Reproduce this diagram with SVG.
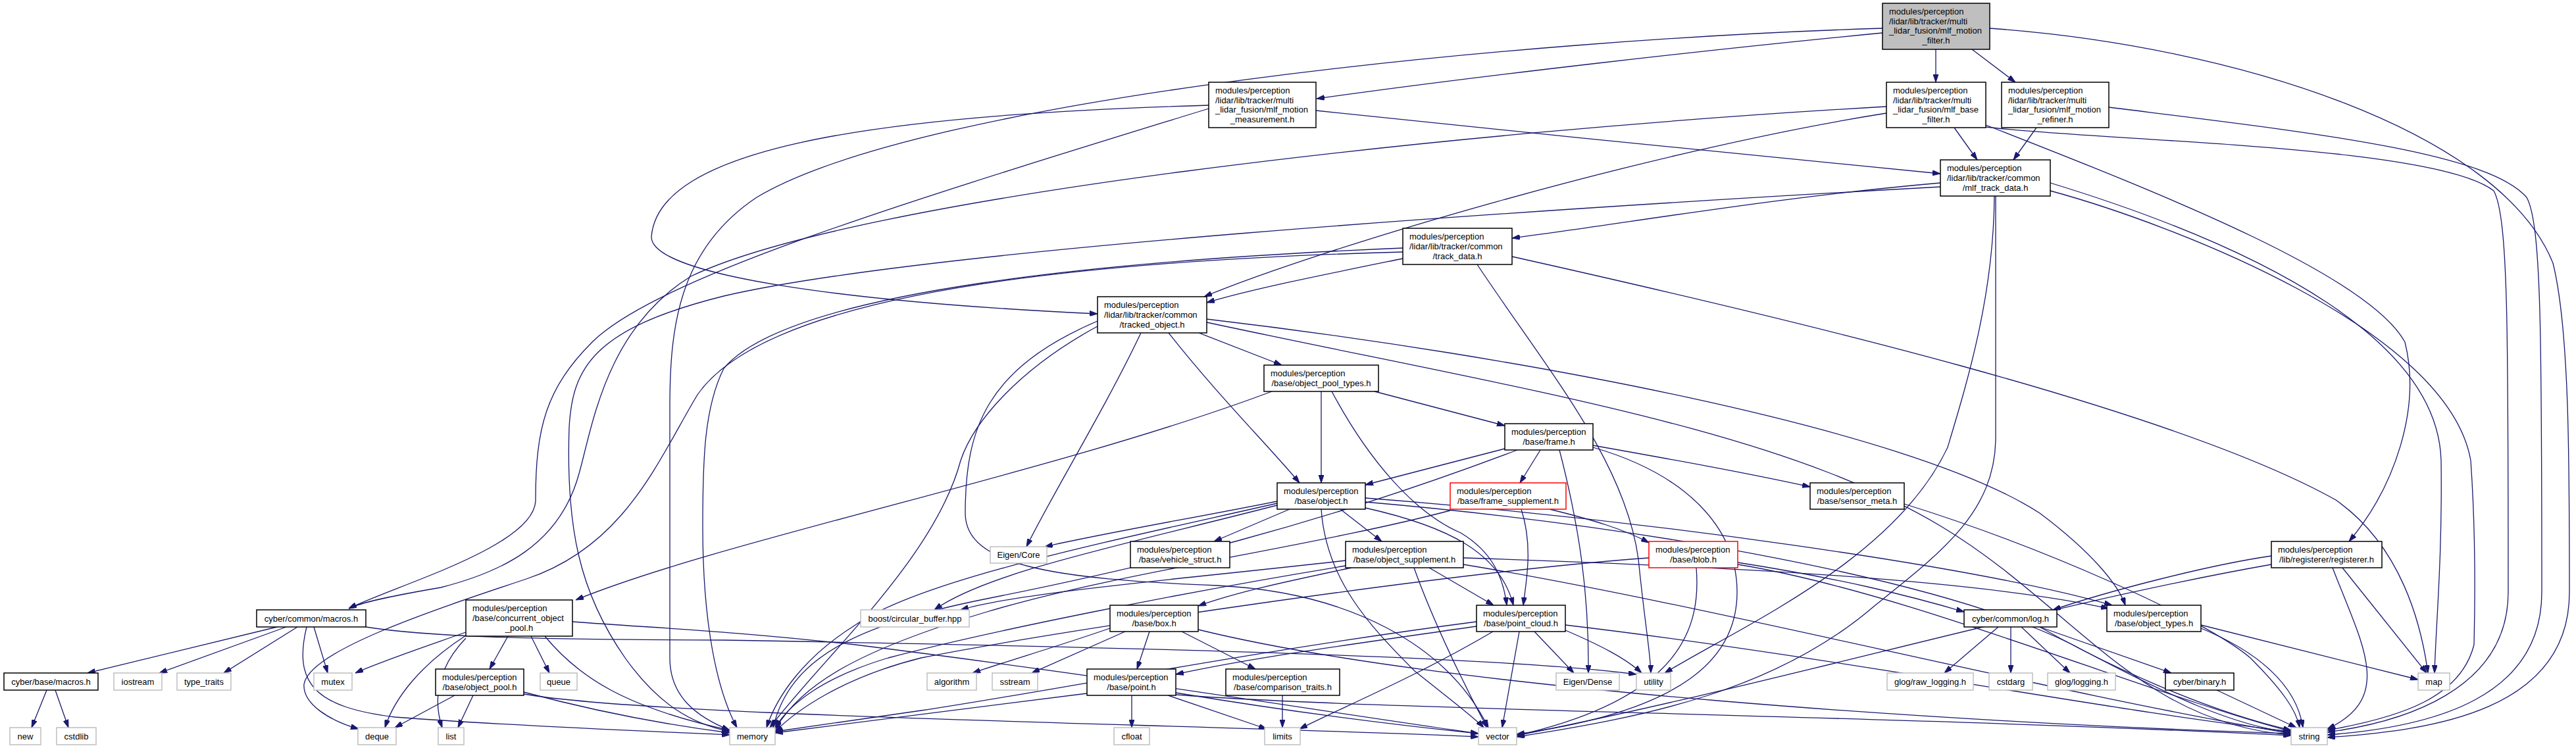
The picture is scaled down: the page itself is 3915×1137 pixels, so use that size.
<svg xmlns="http://www.w3.org/2000/svg" width="3915" height="1137" viewBox="0 0 3915 1137">
<style>
text{font-family:"Liberation Sans",Arial,Helvetica,sans-serif;font-size:13px;fill:#000}
.c{text-anchor:middle}
.n rect{fill:#fff;stroke:#000;stroke-width:1.5}
.g rect{fill:#fff;stroke:#bfbfbf;stroke-width:1.5}
.r rect{fill:#fff;stroke:#ff0000;stroke-width:1.5}
.t rect{fill:#bfbfbf;stroke:#000;stroke-width:1.5}
#edges path{fill:none;stroke:#191970;stroke-width:1.3;marker-end:url(#a)}
</style>
<defs>
<marker id="a" markerWidth="12" markerHeight="8" refX="12" refY="4" orient="auto" markerUnits="userSpaceOnUse">
<path d="M0,0 L12,4 L0,8 z" fill="#191970" stroke="#191970" stroke-width="1"/>
</marker>
</defs>
<rect width="3915" height="1137" fill="#fff"/>
<g id="edges">
<path d="M2861,50 C2600,75 2250,115 2001,150"/>
<path d="M2942,75 L2942,125"/>
<path d="M2997,75 L3063,125"/>
<path d="M2861,43 C2300,60 1400,150 1150,300 C1030,380 1018,500 1018,620 L1018,1000 C1018,1060 1060,1090 1109,1110"/>
<path d="M3024,43 C3400,70 3800,200 3880,400 C3905,500 3905,700 3905,900 C3905,1080 3700,1110 3537,1121"/>
<path d="M2000,168 C2300,200 2700,240 2949,264"/>
<path d="M1837,160 C1300,175 1000,230 990,360 C990,420 1300,460 1668,477"/>
<path d="M1837,165 C1400,300 1000,420 900,520 C830,590 814,650 814,760 C814,830 600,890 530,925"/>
<path d="M2970,194 L3005,243"/>
<path d="M2867,172 C2500,230 2000,380 1830,451"/>
<path d="M3018,190 C3300,300 3600,420 3655,520 C3680,620 3640,740 3570,823"/>
<path d="M3018,193 C3200,215 3700,220 3790,290 C3812,330 3812,500 3812,900 C3812,1050 3650,1098 3537,1113"/>
<path d="M2867,162 C2200,200 1300,300 1050,420 C920,500 900,650 880,720 C850,830 760,870 670,893 C600,905 550,915 530,925"/>
<path d="M3095,194 L3060,243"/>
<path d="M3205,163 C3500,200 3780,230 3840,300 C3862,340 3863,500 3863,900 C3863,1060 3700,1105 3537,1117"/>
<path d="M2949,278 C2700,300 2500,335 2298,362"/>
<path d="M2949,284 C2300,320 1400,380 1100,450 C900,500 870,560 865,650 C860,800 880,900 950,1000 C1000,1070 1050,1100 1109,1112"/>
<path d="M3116,290 C3300,340 3720,500 3755,700 C3762,800 3762,900 3760,980 C3740,1060 3650,1090 3537,1110"/>
<path d="M3116,278 C3450,380 3705,520 3710,700 C3712,850 3702,950 3700,1023"/>
<path d="M3031,298 C3030,450 2990,580 2960,680 C2880,850 2650,950 2530,1023"/>
<path d="M3033,298 L3033,670 C3030,780 2950,840 2850,920 C2700,1050 2500,1090 2305,1120"/>
<path d="M2132,393 C2000,420 1900,440 1834,460"/>
<path d="M2132,377 C1700,395 1200,440 1100,560 C1070,620 1068,700 1068,800 C1068,950 1090,1050 1120,1106"/>
<path d="M2132,383 C1500,400 1150,470 1060,600 C1000,700 950,830 800,880 C650,930 470,990 462,1040 C460,1070 500,1095 545,1108"/>
<path d="M2298,390 C2700,480 3300,620 3550,760 C3650,830 3680,950 3690,1023"/>
<path d="M2245,402 C2350,560 2470,700 2490,850 C2500,950 2508,990 2509,1023"/>
<path d="M1734,506 C1680,620 1600,750 1560,831"/>
<path d="M1776,506 C1850,600 1930,680 1975,734"/>
<path d="M1822,506 L1948,555"/>
<path d="M1834,485 C2300,540 2900,650 3100,780 C3180,840 3220,890 3230,920"/>
<path d="M1834,490 C2300,590 2700,650 2950,800 C3150,920 3250,1100 3482,1117"/>
<path d="M1668,496 C1550,560 1480,640 1460,700 C1420,850 1250,1000 1170,1106"/>
<path d="M1668,488 C1500,560 1467,650 1467,780 C1467,860 1600,880 1850,890 C2050,900 2200,980 2262,1106"/>
<path d="M1933,595 C1600,720 1100,820 875,912"/>
<path d="M2008,595 L2008,734"/>
<path d="M2024,595 C2080,700 2150,780 2220,810 C2270,840 2285,880 2290,920"/>
<path d="M2089,595 L2287,647"/>
<path d="M2287,682 L2075,737"/>
<path d="M2341,684 L2310,734"/>
<path d="M2421,677 C2550,700 2650,718 2751,740"/>
<path d="M2370,684 C2400,800 2415,900 2414,1023"/>
<path d="M2421,680 C2560,720 2640,800 2640,900 C2640,1000 2560,1080 2305,1116"/>
<path d="M2306,684 C2000,800 1750,860 1500,910 C1300,950 1200,1000 1175,1106"/>
<path d="M2355,774 C2420,790 2470,805 2506,825"/>
<path d="M2312,774 C2330,830 2320,880 2315,920"/>
<path d="M2204,776 C2000,830 1700,870 1500,930 C1300,990 1220,1040 1178,1108"/>
<path d="M2894,766 C3100,830 3350,940 3420,1000 C3470,1050 3490,1080 3495,1106"/>
<path d="M1941,762 C1800,790 1680,810 1588,831"/>
<path d="M1960,774 L1845,823"/>
<path d="M2037,774 L2100,823"/>
<path d="M2075,772 C2200,800 2280,840 2300,920"/>
<path d="M2075,757 C2500,790 3000,860 3210,920"/>
<path d="M2075,763 C2500,800 2950,880 3150,980 C3300,1060 3400,1105 3482,1113"/>
<path d="M2008,774 C2015,880 2080,950 2150,1020 C2200,1060 2240,1090 2255,1106"/>
<path d="M1941,765 C1700,820 1400,880 1300,950 C1220,1000 1180,1060 1165,1106"/>
<path d="M1941,768 C1700,830 1500,870 1420,927"/>
<path d="M2045,852 C1800,880 1550,900 1460,927"/>
<path d="M2054,863 C1950,885 1880,900 1821,921"/>
<path d="M2172,863 L2270,920"/>
<path d="M2224,848 C2600,860 3000,880 3205,925"/>
<path d="M2224,858 C2600,920 3100,1050 3482,1115"/>
<path d="M2149,863 C2180,950 2230,1050 2260,1106"/>
<path d="M2045,860 C1800,900 1500,960 1350,1000 C1250,1030 1200,1070 1178,1106"/>
<path d="M2506,848 C2200,870 1600,960 1400,1000 C1280,1030 1210,1080 1178,1112"/>
<path d="M2578,863 C2585,950 2560,1060 2305,1118"/>
<path d="M2641,855 C2800,880 2900,905 2985,930"/>
<path d="M2641,858 C2900,900 3250,1050 3482,1112"/>
<path d="M3452,845 C3350,860 3200,900 3120,927"/>
<path d="M3560,863 L3688,1023"/>
<path d="M3545,863 C3590,980 3640,1060 3537,1108"/>
<path d="M3452,858 C3100,920 2700,1040 2305,1118"/>
<path d="M1687,955 C1600,985 1530,1005 1478,1023"/>
<path d="M1710,960 L1568,1023"/>
<path d="M1747,960 L1728,1017"/>
<path d="M1796,960 L1908,1017"/>
<path d="M1821,957 C2200,1050 3000,1100 3482,1115"/>
<path d="M2244,952 C2050,980 1900,1000 1787,1025"/>
<path d="M2269,960 C2150,1030 2040,1075 1975,1108"/>
<path d="M2309,960 L2283,1106"/>
<path d="M2332,960 L2392,1023"/>
<path d="M2379,958 C2430,980 2470,1000 2495,1023"/>
<path d="M2379,950 C2800,1000 3200,1080 3482,1112"/>
<path d="M2244,945 C1900,990 1600,1050 1400,1080 C1300,1095 1230,1105 1178,1112"/>
<path d="M3345,950 L3675,1033"/>
<path d="M3345,955 C3430,990 3490,1040 3500,1106"/>
<path d="M772,967 L744,1017"/>
<path d="M807,967 L835,1023"/>
<path d="M828,967 C880,1030 950,1075 1109,1110"/>
<path d="M708,961 C640,985 580,1005 540,1023"/>
<path d="M708,966 C640,1010 600,1060 585,1106"/>
<path d="M708,970 C660,1020 660,1070 672,1106"/>
<path d="M870,945 C1000,955 1100,958 1300,980 C1700,1030 2000,1080 2247,1115"/>
<path d="M691,1057 L600,1106"/>
<path d="M719,1057 L696,1106"/>
<path d="M796,1052 C900,1080 1000,1100 1109,1114"/>
<path d="M796,1055 C1000,1090 1800,1100 2247,1120"/>
<path d="M1720,1057 L1720,1106"/>
<path d="M1775,1057 L1925,1108"/>
<path d="M1652,1054 C1450,1080 1300,1100 1178,1114"/>
<path d="M1787,1053 C1950,1080 2100,1100 2247,1115"/>
<path d="M1787,1056 C2100,1080 2800,1085 3482,1118"/>
<path d="M1949,1057 L1949,1106"/>
<path d="M3037,953 L2955,1023"/>
<path d="M3056,953 L3056,1023"/>
<path d="M3072,953 L3146,1023"/>
<path d="M3100,953 L3300,1023"/>
<path d="M3100,953 C3200,1010 3350,1080 3482,1110"/>
<path d="M3369,1049 L3490,1106"/>
<path d="M421,953 L133,1023"/>
<path d="M435,953 L242,1023"/>
<path d="M452,953 L340,1023"/>
<path d="M477,953 L498,1023"/>
<path d="M466,953 C445,1040 480,1075 600,1090 C800,1105 1000,1112 1109,1117"/>
<path d="M556,953 C650,968 800,972 1100,973 C1800,985 2300,1000 2487,1025"/>
<path d="M71,1049 L48,1106"/>
<path d="M84,1049 L104,1106"/>
</g>
<g id="n-mlf_motion_filter" class="t"><rect x="2861" y="5" width="163" height="70"/><text x="2871" y="22">modules/perception</text><text x="2871" y="36.6">/lidar/lib/tracker/multi</text><text x="2871" y="51.2">_lidar_fusion/mlf_motion</text><text class="c" x="2942.5" y="65.8">_filter.h</text></g>
<g id="n-mlf_motion_measurement" class="n"><rect x="1837" y="125" width="163" height="69"/><text x="1847" y="142.1">modules/perception</text><text x="1847" y="156.7">/lidar/lib/tracker/multi</text><text x="1847" y="171.3">_lidar_fusion/mlf_motion</text><text class="c" x="1918.5" y="185.9">_measurement.h</text></g>
<g id="n-mlf_base_filter" class="n"><rect x="2867" y="125" width="151" height="69"/><text x="2877" y="142.1">modules/perception</text><text x="2877" y="156.7">/lidar/lib/tracker/multi</text><text x="2877" y="171.3">_lidar_fusion/mlf_base</text><text class="c" x="2942.5" y="185.9">_filter.h</text></g>
<g id="n-mlf_motion_refiner" class="n"><rect x="3042" y="125" width="163" height="69"/><text x="3052" y="142.1">modules/perception</text><text x="3052" y="156.7">/lidar/lib/tracker/multi</text><text x="3052" y="171.3">_lidar_fusion/mlf_motion</text><text class="c" x="3123.5" y="185.9">_refiner.h</text></g>
<g id="n-mlf_track_data" class="n"><rect x="2949" y="243" width="167" height="55"/><text x="2959" y="260.4">modules/perception</text><text x="2959" y="275">/lidar/lib/tracker/common</text><text class="c" x="3032.5" y="289.6">/mlf_track_data.h</text></g>
<g id="n-track_data" class="n"><rect x="2132" y="347" width="166" height="55"/><text x="2142" y="364.4">modules/perception</text><text x="2142" y="379">/lidar/lib/tracker/common</text><text class="c" x="2215" y="393.6">/track_data.h</text></g>
<g id="n-tracked_object" class="n"><rect x="1668" y="451" width="166" height="55"/><text x="1678" y="468.4">modules/perception</text><text x="1678" y="483">/lidar/lib/tracker/common</text><text class="c" x="1751" y="497.6">/tracked_object.h</text></g>
<g id="n-object_pool_types" class="n"><rect x="1921" y="555" width="174" height="40"/><text x="1931" y="572.2">modules/perception</text><text class="c" x="2008" y="586.8">/base/object_pool_types.h</text></g>
<g id="n-frame" class="n"><rect x="2287" y="644" width="134" height="40"/><text x="2297" y="661.2">modules/perception</text><text class="c" x="2354" y="675.8">/base/frame.h</text></g>
<g id="n-object" class="n"><rect x="1941" y="734" width="134" height="40"/><text x="1951" y="751.2">modules/perception</text><text class="c" x="2008" y="765.8">/base/object.h</text></g>
<g id="n-frame_supplement" class="r"><rect x="2204" y="734" width="176" height="40"/><text x="2214" y="751.2">modules/perception</text><text class="c" x="2292" y="765.8">/base/frame_supplement.h</text></g>
<g id="n-sensor_meta" class="n"><rect x="2751" y="734" width="143" height="40"/><text x="2761" y="751.2">modules/perception</text><text class="c" x="2822.5" y="765.8">/base/sensor_meta.h</text></g>
<g id="n-eigen_core" class="g"><rect x="1505" y="831" width="86" height="25"/><text class="c" x="1548" y="848">Eigen/Core</text></g>
<g id="n-vehicle_struct" class="n"><rect x="1718" y="823" width="151" height="40"/><text x="1728" y="840.2">modules/perception</text><text class="c" x="1793.5" y="854.8">/base/vehicle_struct.h</text></g>
<g id="n-object_supplement" class="n"><rect x="2045" y="823" width="179" height="40"/><text x="2055" y="840.2">modules/perception</text><text class="c" x="2134.5" y="854.8">/base/object_supplement.h</text></g>
<g id="n-blob" class="r"><rect x="2506" y="823" width="135" height="40"/><text x="2516" y="840.2">modules/perception</text><text class="c" x="2573.5" y="854.8">/base/blob.h</text></g>
<g id="n-registerer" class="n"><rect x="3452" y="823" width="168" height="40"/><text x="3462" y="840.2">modules/perception</text><text class="c" x="3536" y="854.8">/lib/registerer/registerer.h</text></g>
<g id="n-box" class="n"><rect x="1687" y="920" width="134" height="40"/><text x="1697" y="937.2">modules/perception</text><text class="c" x="1754" y="951.8">/base/box.h</text></g>
<g id="n-point_cloud" class="n"><rect x="2244" y="920" width="135" height="40"/><text x="2254" y="937.2">modules/perception</text><text class="c" x="2311.5" y="951.8">/base/point_cloud.h</text></g>
<g id="n-object_types" class="n"><rect x="3202" y="920" width="143" height="40"/><text x="3212" y="937.2">modules/perception</text><text class="c" x="3273.5" y="951.8">/base/object_types.h</text></g>
<g id="n-concurrent_object_pool" class="n"><rect x="708" y="912" width="162" height="55"/><text x="718" y="929.4">modules/perception</text><text x="718" y="944">/base/concurrent_object</text><text class="c" x="789" y="958.6">_pool.h</text></g>
<g id="n-log" class="n"><rect x="2985" y="927" width="141" height="26"/><text class="c" x="3055.5" y="944.5">cyber/common/log.h</text></g>
<g id="n-circular_buffer" class="g"><rect x="1308" y="927" width="165" height="26"/><text class="c" x="1390.5" y="944.5">boost/circular_buffer.hpp</text></g>
<g id="n-common_macros" class="n"><rect x="390" y="927" width="166" height="26"/><text class="c" x="473" y="944.5">cyber/common/macros.h</text></g>
<g id="n-point" class="n"><rect x="1652" y="1017" width="135" height="40"/><text x="1662" y="1034.2">modules/perception</text><text class="c" x="1719.5" y="1048.8">/base/point.h</text></g>
<g id="n-comparison_traits" class="n"><rect x="1863" y="1017" width="173" height="40"/><text x="1873" y="1034.2">modules/perception</text><text class="c" x="1949.5" y="1048.8">/base/comparison_traits.h</text></g>
<g id="n-object_pool" class="n"><rect x="662" y="1017" width="134" height="40"/><text x="672" y="1034.2">modules/perception</text><text class="c" x="729" y="1048.8">/base/object_pool.h</text></g>
<g id="n-sstream" class="g"><rect x="1508" y="1023" width="69" height="26"/><text class="c" x="1542.5" y="1040.5">sstream</text></g>
<g id="n-algorithm" class="g"><rect x="1409" y="1023" width="75" height="26"/><text class="c" x="1446.5" y="1040.5">algorithm</text></g>
<g id="n-queue" class="g"><rect x="821" y="1023" width="56" height="26"/><text class="c" x="849" y="1040.5">queue</text></g>
<g id="n-eigen_dense" class="g"><rect x="2365" y="1023" width="96" height="26"/><text class="c" x="2413" y="1040.5">Eigen/Dense</text></g>
<g id="n-utility" class="g"><rect x="2487" y="1023" width="52" height="26"/><text class="c" x="2513" y="1040.5">utility</text></g>
<g id="n-raw_logging" class="g"><rect x="2868" y="1023" width="131" height="26"/><text class="c" x="2933.5" y="1040.5">glog/raw_logging.h</text></g>
<g id="n-cstdarg" class="g"><rect x="3023" y="1023" width="66" height="26"/><text class="c" x="3056" y="1040.5">cstdarg</text></g>
<g id="n-glog_logging" class="g"><rect x="3112" y="1023" width="103" height="26"/><text class="c" x="3163.5" y="1040.5">glog/logging.h</text></g>
<g id="n-binary" class="n"><rect x="3291" y="1023" width="104" height="26"/><text class="c" x="3343" y="1040.5">cyber/binary.h</text></g>
<g id="n-map" class="g"><rect x="3675" y="1023" width="48" height="26"/><text class="c" x="3699" y="1040.5">map</text></g>
<g id="n-mutex" class="g"><rect x="477" y="1023" width="58" height="26"/><text class="c" x="506" y="1040.5">mutex</text></g>
<g id="n-type_traits" class="g"><rect x="269" y="1023" width="82" height="26"/><text class="c" x="310" y="1040.5">type_traits</text></g>
<g id="n-iostream" class="g"><rect x="173" y="1023" width="73" height="26"/><text class="c" x="209.5" y="1040.5">iostream</text></g>
<g id="n-base_macros" class="n"><rect x="6" y="1023" width="143" height="26"/><text class="c" x="77.5" y="1040.5">cyber/base/macros.h</text></g>
<g id="n-cfloat" class="g"><rect x="1693" y="1106" width="54" height="26"/><text class="c" x="1720" y="1123.5">cfloat</text></g>
<g id="n-limits" class="g"><rect x="1922" y="1106" width="54" height="26"/><text class="c" x="1949" y="1123.5">limits</text></g>
<g id="n-vector" class="g"><rect x="2247" y="1106" width="58" height="26"/><text class="c" x="2276" y="1123.5">vector</text></g>
<g id="n-memory" class="g"><rect x="1109" y="1106" width="69" height="26"/><text class="c" x="1143.5" y="1123.5">memory</text></g>
<g id="n-list" class="g"><rect x="666" y="1106" width="39" height="26"/><text class="c" x="685.5" y="1123.5">list</text></g>
<g id="n-deque" class="g"><rect x="544" y="1106" width="58" height="26"/><text class="c" x="573" y="1123.5">deque</text></g>
<g id="n-string" class="g"><rect x="3482" y="1106" width="55" height="26"/><text class="c" x="3509.5" y="1123.5">string</text></g>
<g id="n-new" class="g"><rect x="15" y="1106" width="47" height="26"/><text class="c" x="38.5" y="1123.5">new</text></g>
<g id="n-cstdlib" class="g"><rect x="86" y="1106" width="60" height="26"/><text class="c" x="116" y="1123.5">cstdlib</text></g>
</svg>
